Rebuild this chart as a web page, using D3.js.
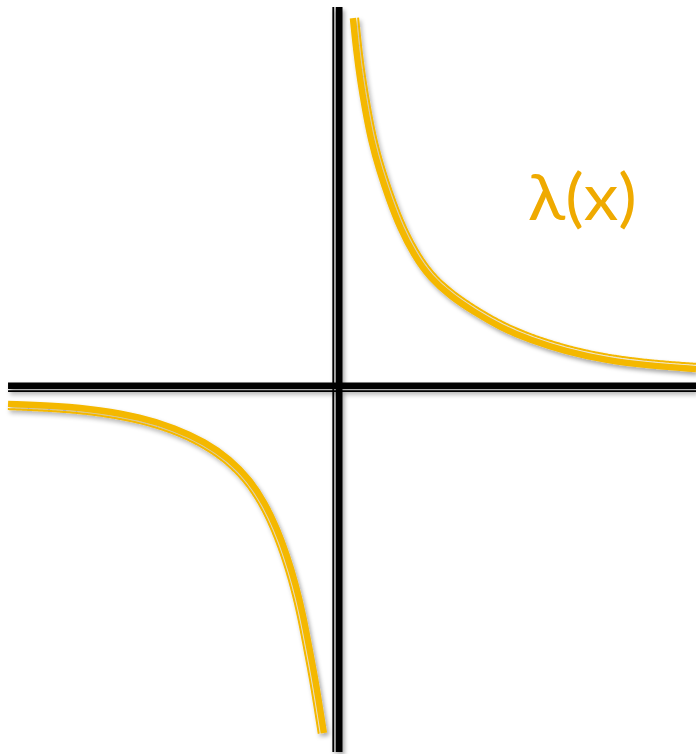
<!DOCTYPE html>
<html>
<head>
<meta charset="utf-8">
<script src="https://cdn.jsdelivr.net/npm/d3@7"></script>
<style>
  html, body { margin: 0; padding: 0; background: #ffffff; }
  svg { display: block; }
</style>
</head>
<body>
<svg id="chart" width="696" height="754"></svg>
<script>
// ---- data (units: axis units, origin at the axes crossing) ----
const rightBranchX = [0.43, 0.52, 0.63, 0.77, 0.93, 1.16, 1.44, 1.74, 2.13, 2.58, 3.14, 3.81, 4.53, 5.37, 6.35, 7.46, 8.72, 10.0];
const rightBranchY = [10.29, 9.40, 8.56, 7.73, 6.89, 6.05, 5.22, 4.44, 3.68, 3.04, 2.54, 2.09, 1.67, 1.31, 1.00, 0.75, 0.59, 0.50];
const leftBranchX = [-9.19, -7.74, -6.62, -5.51, -4.53, -3.70, -3.00, -2.44, -2.02, -1.69, -1.41, -1.16, -0.96, -0.80, -0.63, -0.49, -0.38];
const leftBranchY = [-0.47, -0.53, -0.64, -0.84, -1.14, -1.53, -2.01, -2.59, -3.24, -3.94, -4.69, -5.52, -6.36, -7.20, -8.09, -8.95, -9.65];
const xAxisExtent = [-9.19, 10.0];
const yAxisExtent = [-10.18, 10.6];
const labelText = "λ(x)";
const labelPos = [5.31, 4.65];

// ---- layout ----
const unit = 35.85;
const ox = 337.5, oy = 387;
const x = d3.scaleLinear().domain([0, 10]).range([ox, ox + 10 * unit]);
const y = d3.scaleLinear().domain([0, 10]).range([oy, oy - 10 * unit]);

const curveColor = "#F4B800";
const textColor = "#EFAA00";

const svg = d3.select("#chart");
const defs = svg.append("defs");
const f = defs.append("filter").attr("id", "shadow")
  .attr("x", "-20%").attr("y", "-20%").attr("width", "140%").attr("height", "140%");
f.append("feDropShadow").attr("dx", 2).attr("dy", 3).attr("stdDeviation", 2.2)
  .attr("flood-color", "#000").attr("flood-opacity", 0.35);

// ---- axes (double lines) ----
const axes = svg.append("g").attr("filter", "url(#shadow)");
axes.append("line")
  .attr("x1", x(xAxisExtent[0])).attr("x2", x(xAxisExtent[1]))
  .attr("y1", y(0) - 1.2).attr("y2", y(0) - 1.2)
  .attr("stroke", "#000").attr("stroke-width", 6.4);
axes.append("line")
  .attr("x1", x(xAxisExtent[0])).attr("x2", x(xAxisExtent[1]))
  .attr("y1", y(0) + 4.2).attr("y2", y(0) + 4.2)
  .attr("stroke", "#000").attr("stroke-width", 1.8);
axes.append("line")
  .attr("x1", x(0) + 1.6).attr("x2", x(0) + 1.6)
  .attr("y1", y(yAxisExtent[1])).attr("y2", y(yAxisExtent[0]))
  .attr("stroke", "#000").attr("stroke-width", 6.8);
axes.append("line")
  .attr("x1", x(0) - 4.2).attr("x2", x(0) - 4.2)
  .attr("y1", y(yAxisExtent[1])).attr("y2", y(yAxisExtent[0]))
  .attr("stroke", "#000").attr("stroke-width", 1.9);

// ---- curves ----
const line = d3.line().x(d => x(d[0])).y(d => y(d[1])).curve(d3.curveBasis);
const branches = [
  { pts: d3.zip(rightBranchX, rightBranchY), out: [1, -1] },
  { pts: d3.zip(leftBranchX, leftBranchY), out: [-1, 1] }
];
const curves = svg.append("g").attr("filter", "url(#shadow)");
branches.forEach(b => {
  const main = curves.append("path")
    .attr("d", line(b.pts))
    .attr("fill", "none").attr("stroke", curveColor)
    .attr("stroke-width", 6.4).attr("stroke-linecap", "butt");
  const node = main.node();
  const L = node.getTotalLength();
  const n = Math.ceil(L / 2);
  const off = [];
  for (let i = 0; i <= n; i++) {
    const s = L * i / n;
    const p = node.getPointAtLength(s);
    const p1 = node.getPointAtLength(Math.max(0, s - 1.5));
    const p2 = node.getPointAtLength(Math.min(L, s + 1.5));
    const dx = p2.x - p1.x, dy = p2.y - p1.y;
    const len = Math.hypot(dx, dy) || 1;
    let nx = -dy / len, ny = dx / len;
    if (nx * b.out[0] + ny * b.out[1] < 0) { nx = -nx; ny = -ny; }
    off.push([p.x + nx * 5.2, p.y + ny * 5.2]);
  }
  curves.append("path")
    .attr("d", d3.line().curve(d3.curveBasis)(off))
    .attr("fill", "none").attr("stroke", curveColor)
    .attr("stroke-width", 2);
});

// ---- label ----
svg.append("text")
  .attr("x", x(labelPos[0])).attr("y", y(labelPos[1]))
  .attr("font-family", "Lato, 'Open Sans', sans-serif")
  .attr("font-size", 63)
  .attr("fill", textColor)
  .attr("textLength", 109).attr("lengthAdjust", "spacingAndGlyphs")
  .text(labelText);
</script>
</body>
</html>
